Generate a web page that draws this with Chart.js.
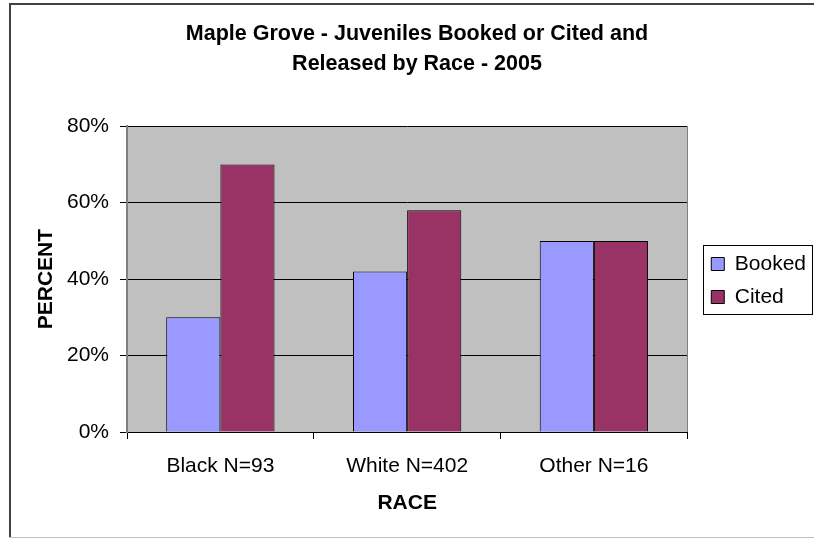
<!DOCTYPE html>
<html>
<head>
<meta charset="utf-8">
<title>Maple Grove - Juveniles Booked or Cited and Released by Race - 2005</title>
<script src="https://cdn.jsdelivr.net/npm/chart.js@4/dist/chart.umd.min.js"></script>
<style>
    html, body { margin: 0; padding: 0; background: #ffffff; }
    #wrap { width: 814px; height: 539px; }
</style>
</head>
<body>
<div id="wrap"><canvas id="raceChart" width="814" height="539"></canvas></div>
<script>
// Data
const categories = ['Black N=93', 'White N=402', 'Other N=16'];
const bookedPct = [30, 42, 50];
const citedPct = [70, 58, 50];
const yTicks = [0, 20, 40, 60, 80];
const titleLines = ['Maple Grove - Juveniles Booked or Cited and', 'Released by Race - 2005'];

Chart.defaults.font.family = "'Liberation Sans', Arial, sans-serif";
Chart.defaults.color = '#000000';

const legendaShiftX = 12;
const legendaShiftY = 11;

// Achtergrond, plotvlak en kader
const achtergrondPlugin = {
    id: 'achtergrond',
    beforeDraw(chart) {
        const ctx = chart.ctx;
        const a = chart.chartArea;
        ctx.save();
        ctx.fillStyle = '#ffffff';
        ctx.fillRect(0, 0, chart.width, chart.height);
        // buitenkader
        ctx.fillStyle = '#404040';
        ctx.fillRect(9, 3, chart.width - 9, 2);
        ctx.fillRect(9, 3, 2, 535);
        ctx.fillStyle = '#bfbfbf';
        ctx.fillRect(9, 537, chart.width - 9, 1);
        // plotvlak
        ctx.fillStyle = '#c0c0c0';
        ctx.fillRect(a.left, a.top, a.right - a.left, a.bottom - a.top);
        ctx.restore();
    },
    afterLayout(chart) {
        // legenda een stukje naar rechts en omlaag schuiven
        chart.legend.left += legendaShiftX;
        chart.legend.right += legendaShiftX;
        chart.legend.top += legendaShiftY;
        chart.legend.bottom += legendaShiftY;
    },
    afterDraw(chart) {
        const ctx = chart.ctx;
        const a = chart.chartArea;
        ctx.save();
        // rechterrand plotvlak
        ctx.strokeStyle = '#808080';
        ctx.lineWidth = 1;
        ctx.beginPath();
        ctx.moveTo(Math.round(a.right) + 0.5, a.top);
        ctx.lineTo(Math.round(a.right) + 0.5, a.bottom);
        ctx.stroke();
        // kader om de legenda
        const boxes = chart.legend.legendHitBoxes;
        if (boxes && boxes.length) {
            const first = boxes[0];
            const last = boxes[boxes.length - 1];
            const top = Math.round(first.top + first.height / 2 - 19) + 0.5;
            const bottom = Math.round(last.top + last.height / 2 + 17) + 0.5;
            const left = Math.round(chart.legend.left + 4) + 0.5;
            const right = chart.width - 1.5;
            ctx.strokeStyle = '#000000';
            ctx.strokeRect(left, top, right - left, bottom - top);
        }
        ctx.restore();
    }
};

var ctx = document.getElementById('raceChart').getContext('2d');
var raceChart = new Chart(ctx, {
    type: 'bar',
    data: {
        labels: categories,
        datasets: [
            { label: 'Booked', data: bookedPct, backgroundColor: '#9999ff', borderColor: '#000000', borderWidth: 1 },
            { label: 'Cited', data: citedPct, backgroundColor: '#993366', borderColor: '#000000', borderWidth: 1 }
        ]
    },
    options: {
        responsive: false,
        animation: false,
        layout: { padding: { left: 30, right: 10, top: 0, bottom: 0 } },
        datasets: {
            bar: { categoryPercentage: 0.58, barPercentage: 1.0 }
        },
        plugins: {
            title: {
                display: true,
                text: titleLines,
                color: '#000000',
                font: { size: 21.5, weight: 'bold', lineHeight: 1.4 },
                padding: { top: 19, bottom: 47 }
            },
            legend: {
                display: true,
                position: 'right',
                labels: {
                    boxWidth: 13,
                    boxHeight: 13,
                    padding: 12,
                    color: '#000000',
                    font: { size: 21 }
                }
            },
            tooltip: { enabled: false }
        },
        scales: {
            x: {
                afterFit(scale) { scale.height = 107; },
                grid: { drawOnChartArea: false, tickLength: 7, color: '#000000' },
                border: { color: '#000000', width: 1 },
                ticks: { padding: 15, font: { size: 21 }, color: '#000000' },
                title: { display: true, text: 'RACE', font: { size: 21, weight: 'bold' }, color: '#000000', padding: { top: 0, bottom: 23 } }
            },
            y: {
                min: 0,
                max: 80,
                afterFit(scale) { scale.width = 97; },
                afterBuildTicks(scale) { scale.ticks = yTicks.map(v => ({ value: v })); },
                grid: { color: '#000000', tickLength: 7, lineWidth: 1 },
                border: { color: '#808080', width: 2 },
                ticks: {
                    padding: 11,
                    font: { size: 21 },
                    color: '#000000',
                    callback: v => v + '%'
                },
                title: { display: true, text: 'PERCENT', font: { size: 21, weight: 'bold' }, color: '#000000', padding: { top: 4, bottom: 0 } }
            }
        }
    },
    plugins: [achtergrondPlugin]
});
</script>
</body>
</html>
